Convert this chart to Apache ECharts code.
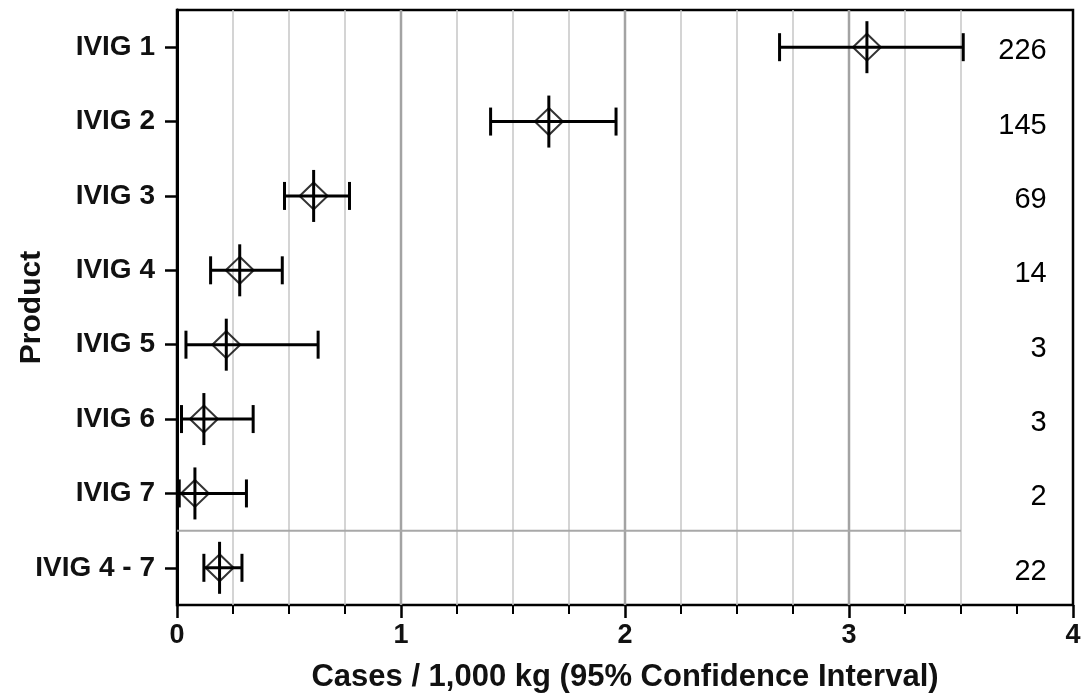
<!DOCTYPE html>
<html>
<head>
<meta charset="utf-8">
<script src="https://cdn.jsdelivr.net/npm/echarts@6/dist/echarts.min.js"></script>
<style>
  html, body { margin: 0; padding: 0; background: #fff; }
  #chart { width: 1086px; height: 695px; }
</style>
</head>
<body>
<div id="chart"></div>
<script>
// data
const categories = ['IVIG 1', 'IVIG 2', 'IVIG 3', 'IVIG 4', 'IVIG 5', 'IVIG 6', 'IVIG 7', 'IVIG 4 - 7'];
const estimates = [3.08, 1.66, 0.61, 0.28, 0.22, 0.12, 0.08, 0.19];
const lower = [2.69, 1.40, 0.48, 0.15, 0.04, 0.02, 0.01, 0.12];
const upper = [3.51, 1.96, 0.77, 0.47, 0.63, 0.34, 0.31, 0.29];
const counts = [226, 145, 69, 14, 3, 3, 2, 22];
const gridTicks = [0.25, 0.5, 0.75, 1, 1.25, 1.5, 1.75, 2, 2.25, 2.5, 2.75, 3, 3.25, 3.5];
const separatorAfter = 6; // line between 'IVIG 7' and 'IVIG 4 - 7'
const separatorEnd = 3.5;
const countsX = 3.885;

const FONT = '"Liberation Sans", Arial, sans-serif';

const chart = echarts.init(document.getElementById('chart'));

// vertical grid lines (stop at 3.5)
const gridSeries = {
  type: 'custom',
  silent: true,
  z: 1,
  data: gridTicks.map(v => [v, 0]),
  encode: { x: 0, y: 1 },
  renderItem: (params, api) => {
    const cs = params.coordSys;
    const v = api.value(0);
    const x = api.coord([v, 0])[0];
    const major = Number.isInteger(v);
    return {
      type: 'line',
      shape: { x1: x, y1: cs.y, x2: x, y2: cs.y + cs.height },
      style: { stroke: major ? '#a3a3a3' : '#c6c6c6', lineWidth: major ? 2.5 : 1.5 }
    };
  }
};

// horizontal separator before the pooled row
const separatorSeries = {
  type: 'custom',
  silent: true,
  z: 1,
  data: [[0, separatorAfter, separatorEnd]],
  encode: { x: [0, 2], y: 1 },
  renderItem: (params, api) => {
    const p0 = api.coord([api.value(0), api.value(1)]);
    const p1 = api.coord([api.value(2), api.value(1)]);
    const y = p0[1] + api.size([0, 1])[1] / 2;
    return {
      type: 'line',
      shape: { x1: p0[0], y1: y, x2: p1[0], y2: y },
      style: { stroke: '#a8a8a8', lineWidth: 2 }
    };
  }
};

// confidence interval bars with caps and a vertical stroke at the estimate
const ciSeries = {
  type: 'custom',
  silent: true,
  z: 3,
  data: categories.map((c, i) => [i, lower[i], upper[i], estimates[i]]),
  encode: { x: [1, 2, 3], y: 0 },
  renderItem: (params, api) => {
    const i = api.value(0);
    const lo = api.coord([api.value(1), i]);
    const hi = api.coord([api.value(2), i]);
    const mid = api.coord([api.value(3), i]);
    const y = lo[1];
    const st = { stroke: '#000', lineWidth: 3 };
    return {
      type: 'group',
      children: [
        { type: 'line', shape: { x1: lo[0], y1: y, x2: hi[0], y2: y }, style: st },
        { type: 'line', shape: { x1: lo[0], y1: y - 14, x2: lo[0], y2: y + 14 }, style: st },
        { type: 'line', shape: { x1: hi[0], y1: y - 14, x2: hi[0], y2: y + 14 }, style: st },
        { type: 'line', shape: { x1: mid[0], y1: y - 26, x2: mid[0], y2: y + 26 }, style: st }
      ]
    };
  }
};

const pointSeries = {
  type: 'scatter',
  z: 4,
  symbol: 'diamond',
  symbolSize: [28, 27],
  itemStyle: { color: 'rgba(0,0,0,0)', borderColor: '#000', borderWidth: 2 },
  data: estimates.map((v, i) => [v, i])
};

const countSeries = {
  type: 'scatter',
  z: 4,
  symbolSize: 1,
  itemStyle: { color: 'rgba(0,0,0,0)' },
  label: {
    show: true,
    position: 'left',
    distance: 0,
    formatter: p => String(p.value[2]),
    fontFamily: FONT,
    fontSize: 29,
    color: '#000',
    opacity: 1,
    offset: [0, 4]
  },
  data: counts.map((n, i) => [countsX, i, n])
};

const option = {
  animation: false,
  backgroundColor: '#fff',
  grid: {
    left: 177, right: 13, top: 10, bottom: 90,
    containLabel: false,
    outerBoundsMode: 'none',
    show: true,
    borderColor: '#000',
    borderWidth: 2.5
  },
  xAxis: {
    type: 'value',
    min: 0,
    max: 4,
    interval: 1,
    name: 'Cases / 1,000 kg (95% Confidence Interval)',
    nameLocation: 'middle',
    nameGap: 57,
    nameMoveOverlap: false,
    nameTextStyle: { fontFamily: FONT, fontSize: 31, fontWeight: 'bold', color: '#111' },
    axisLine: { lineStyle: { color: '#000', width: 3 } },
    axisTick: { show: true, length: 13, lineStyle: { color: '#000', width: 2.5 } },
    minorTick: { show: true, splitNumber: 4, length: 9, lineStyle: { color: '#000', width: 2 } },
    axisLabel: { fontFamily: FONT, fontSize: 27, fontWeight: 'bold', color: '#111', margin: 17 },
    splitLine: { show: false }
  },
  yAxis: {
    type: 'category',
    inverse: true,
    data: categories,
    name: 'Product',
    nameLocation: 'middle',
    nameRotate: 90,
    nameGap: 130,
    nameMoveOverlap: false,
    nameTextStyle: { fontFamily: FONT, fontSize: 30, fontWeight: 'bold', color: '#111' },
    axisLine: { show: true, lineStyle: { color: '#000', width: 3 } },
    axisTick: { show: true, alignWithLabel: true, length: 12, lineStyle: { color: '#000', width: 2.5 } },
    axisLabel: { fontFamily: FONT, fontSize: 28, fontWeight: 'bold', color: '#111', margin: 22 },
    splitLine: { show: false }
  },
  series: [gridSeries, separatorSeries, ciSeries, pointSeries, countSeries]
};

chart.setOption(option);
</script>
</body>
</html>
